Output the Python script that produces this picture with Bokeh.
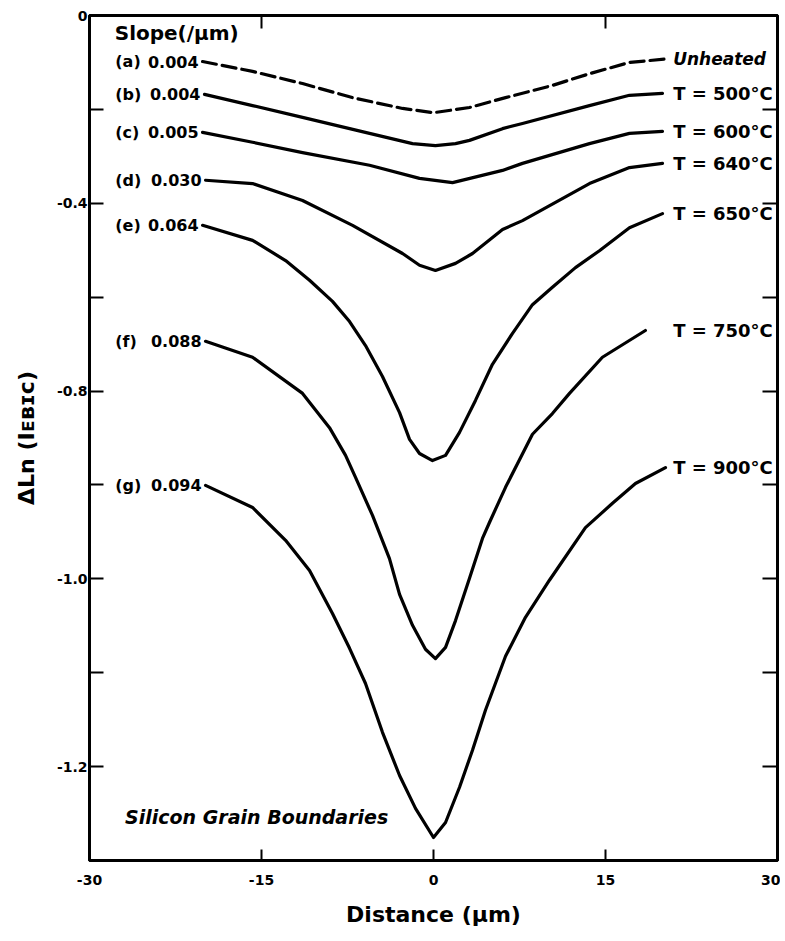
from bokeh.plotting import figure
from bokeh.models import Range1d, FixedTicker, LinearAxis, Label
from bokeh.embed import file_html
from bokeh.resources import INLINE

FONT = "DejaVu Sans"

# ---- axis ticks / labels ----
x_ticks = [-30, -15, 0, 15, 30]
x_tick_labels = ["-30", "-15", "0", "15", "30"]
top_ticks = [-15, 15]
y_ticks = [0, -0.2, -0.4, -0.6, -0.8, -1.0, -1.2, -1.4, -1.6]
y_tick_labels = ["0", "", "-0.4", "", "-0.8", "", "-1.0", "", "-1.2"]

# ---- series labels ----
letters = ["(a)", "(b)", "(c)", "(d)", "(e)", "(f)", "(g)"]
slopes = ["0.004", "0.004", "0.005", "0.030", "0.064", "0.088", "0.094"]
temps = ["Unheated", "T = 500°C", "T = 600°C", "T = 640°C", "T = 650°C", "T = 750°C", "T = 900°C"]

# ---- curve data (distance in um, delta ln I) ----
x_a = [-20.14, -15.78, -11.42, -7.06, -2.70, 0.0, 3.14, 6.28, 10.37, 13.60, 17.09, 20.58]
y_a = [-0.098, -0.119, -0.145, -0.175, -0.198, -0.207, -0.196, -0.175, -0.149, -0.124, -0.100, -0.092]

x_b = [-19.97, -15.78, -11.42, -5.58, -1.83, 0.17, 1.92, 3.14, 6.02, 7.76, 13.60, 17.09, 19.97]
y_b = [-0.168, -0.192, -0.217, -0.251, -0.273, -0.277, -0.273, -0.266, -0.241, -0.230, -0.192, -0.170, -0.166]

x_c = [-20.14, -15.78, -11.42, -5.58, -1.22, 1.66, 6.02, 7.76, 13.60, 17.09, 19.97]
y_c = [-0.249, -0.270, -0.292, -0.319, -0.347, -0.356, -0.330, -0.315, -0.273, -0.251, -0.247]

x_d = [-19.88, -15.78, -11.42, -7.06, -2.70, -1.22, 0.17, 1.92, 3.40, 6.02, 7.76, 13.60, 17.09, 19.97]
y_d = [-0.351, -0.358, -0.394, -0.447, -0.507, -0.532, -0.543, -0.528, -0.507, -0.456, -0.437, -0.358, -0.324, -0.315]

x_e = [-20.14, -15.78, -12.90, -10.81, -8.81, -7.32, -5.93, -4.45, -2.96, -2.09, -1.22, -0.09, 1.05, 2.27,
       3.66, 5.14, 6.89, 8.63, 10.37, 12.38, 14.47, 17.09, 19.97]
y_e = [-0.447, -0.479, -0.522, -0.564, -0.609, -0.652, -0.703, -0.769, -0.846, -0.903, -0.933, -0.948, -0.937, -0.888,
       -0.820, -0.743, -0.677, -0.616, -0.579, -0.537, -0.501, -0.452, -0.422]

x_f = [-19.88, -15.78, -11.42, -9.07, -7.67, -6.80, -5.32, -3.84, -2.96, -1.83, -0.70, 0.17, 1.05, 1.92,
       3.14, 4.27, 4.88, 6.28, 8.63, 10.37, 11.86, 14.73, 18.48]
y_f = [-0.694, -0.728, -0.805, -0.878, -0.937, -0.984, -1.065, -1.157, -1.233, -1.299, -1.350, -1.370, -1.346, -1.289,
       -1.199, -1.114, -1.080, -1.005, -0.892, -0.848, -0.805, -0.728, -0.671]

x_g = [-19.88, -15.78, -12.90, -10.81, -8.81, -7.32, -5.93, -4.45, -2.96, -1.57, 0.0, 1.05, 2.27, 3.40,
       4.53, 6.28, 8.02, 10.11, 13.25, 15.61, 17.61, 20.23]
y_g = [-1.001, -1.048, -1.118, -1.182, -1.274, -1.348, -1.423, -1.527, -1.619, -1.689, -1.751, -1.719, -1.644, -1.565,
       -1.480, -1.365, -1.282, -1.203, -1.091, -1.039, -0.997, -0.963]

xs = [x_a, x_b, x_c, x_d, x_e, x_f, x_g]
ys = [y_a, y_b, y_c, y_d, y_e, y_f, y_g]
dashes = ["14 6", "solid", "solid", "solid", "solid", "solid", "solid"]

p = figure(width=780, height=935,
           x_range=Range1d(-30, 30), y_range=Range1d(-1.8, 0),
           output_backend="svg", toolbar_location=None,
           min_border_left=89, min_border_right=3, min_border_top=15, min_border_bottom=75,
           background_fill_color="white", border_fill_color="white")
p.grid.visible = False
p.outline_line_color = "black"
p.outline_line_width = 3


def style_axis(ax, tick_in, font_px="14px"):
    ax.axis_line_color = "black"
    ax.axis_line_width = 3
    ax.major_tick_in = tick_in
    ax.major_tick_out = 0
    ax.major_tick_line_width = 2
    ax.major_tick_line_color = "black"
    ax.minor_tick_line_color = None
    ax.major_label_text_font = FONT
    ax.major_label_text_font_style = "bold"
    ax.major_label_text_font_size = font_px
    ax.major_label_text_color = "black"
    ax.axis_label_text_font = FONT
    ax.axis_label_text_font_style = "bold"
    ax.axis_label_text_font_size = "22px"
    ax.axis_label_text_color = "black"


xax = p.xaxis[0]
style_axis(xax, 11)
xax.ticker = FixedTicker(ticks=x_ticks)
xax.major_label_overrides = {t: s for t, s in zip(x_ticks, x_tick_labels)}
xax.major_label_standoff = 14
xax.axis_label = "Distance (μm)"
xax.axis_label_standoff = 14

yax = p.yaxis[0]
style_axis(yax, 14)
yax.ticker = FixedTicker(ticks=y_ticks)
yax.major_label_overrides = {t: s for t, s in zip(y_ticks, y_tick_labels)}
yax.major_label_standoff = 2
yax.axis_label = "ΔLn (Iᴇʙɪᴄ)"
yax.axis_label_standoff = 15

top = LinearAxis(ticker=FixedTicker(ticks=top_ticks))
style_axis(top, 13, "0px")
top.major_label_standoff = 0
top.major_label_overrides = {t: "" for t in top_ticks}
p.add_layout(top, "above")

right = LinearAxis(ticker=FixedTicker(ticks=y_ticks))
style_axis(right, 15, "0px")
right.major_label_standoff = 0
right.major_label_overrides = {t: "" for t in y_ticks}
p.add_layout(right, "right")

for xv, yv, dash in zip(xs, ys, dashes):
    p.line(xv, yv, line_color="black", line_width=3.2, line_dash=dash, line_join="round", line_cap="round")

for i in range(len(xs)):
    p.add_layout(Label(x=-27.75, y=ys[i][0], text=letters[i], text_align="left", text_baseline="middle",
                       text_font=FONT, text_font_style="bold", text_font_size="16px", text_color="black"))
    p.add_layout(Label(x=xs[i][0] - 0.35, y=ys[i][0], text=slopes[i], text_align="right", text_baseline="middle",
                       text_font=FONT, text_font_style="bold", text_font_size="16px", text_color="black"))
    p.add_layout(Label(x=20.9, y=ys[i][-1], text=temps[i], text_align="left", text_baseline="middle",
                       text_font=FONT, text_font_style="bold italic" if i == 0 else "bold",
                       text_font_size="17px" if i == 0 else "18px", text_color="black"))

p.add_layout(Label(x=-27.8, y=-0.038, text="Slope(/μm)", text_align="left", text_baseline="middle",
                   text_font=FONT, text_font_style="bold", text_font_size="20px", text_color="black"))
p.add_layout(Label(x=-26.9, y=-1.708, text="Silicon Grain Boundaries", text_align="left", text_baseline="middle",
                   text_font=FONT, text_font_style="bold italic", text_font_size="19px", text_color="black"))

open("out.html", "w").write(file_html(p, INLINE))
